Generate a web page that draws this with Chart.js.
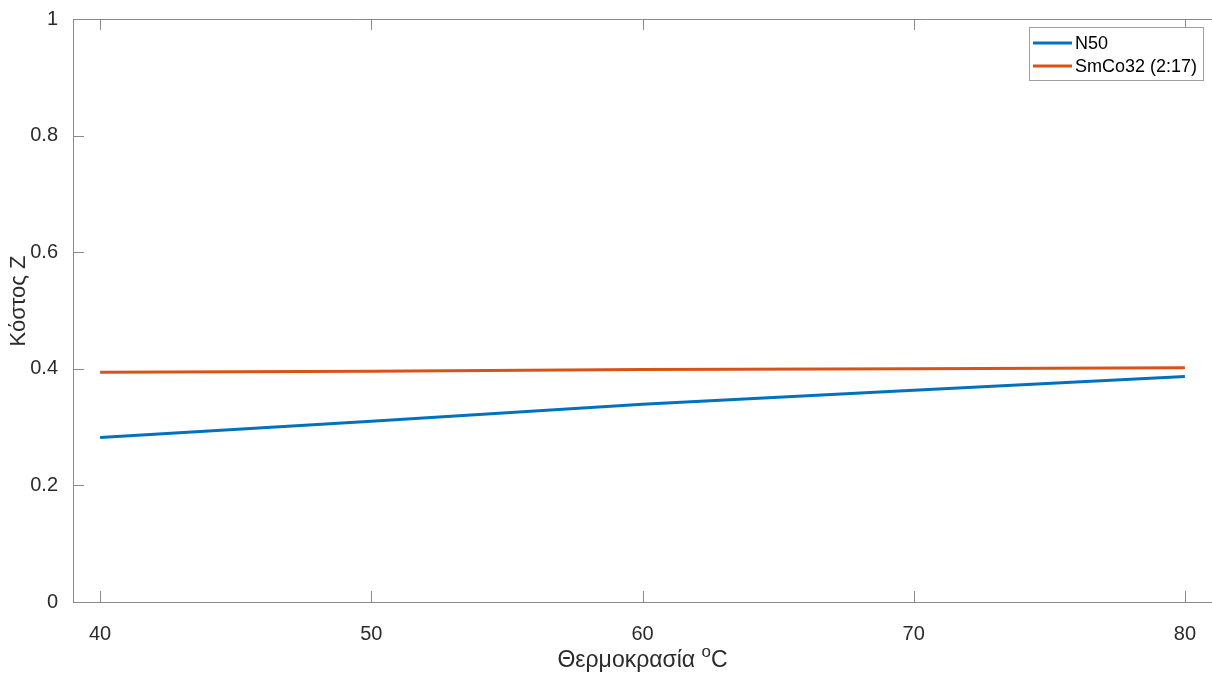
<!DOCTYPE html>
<html>
<head>
<meta charset="utf-8">
<script src="https://cdn.jsdelivr.net/npm/chart.js@4/dist/chart.umd.min.js"></script>
<style>
  html, body { margin: 0; padding: 0; background: #fff; }
  canvas { display: block; }
</style>
</head>
<body>
<canvas id="chart" width="1212" height="673"></canvas>
<script>
// temperatures (x) and cost Z for each magnet
const temps = [40, 50, 60, 70, 80];
const n50 = [0.282, 0.310, 0.339, 0.363, 0.387];
const smco = [0.394, 0.396, 0.399, 0.400, 0.402];
const xTicks = [40, 50, 60, 70, 80];
const yTicks = [0, 0.2, 0.4, 0.6, 0.8, 1];

const FONT = '"Liberation Sans", Arial, sans-serif';
const AXIS = '#8a8a8a';
const TEXT = '#2b2b2b';

// MATLAB-like box: top border, inward ticks, legend, axis titles
const boxPlugin = {
    id: 'box',
    afterDraw(chart) {
        const { ctx, chartArea: a, scales } = chart;
        ctx.save();
        ctx.strokeStyle = AXIS;
        ctx.lineWidth = 1;
        ctx.beginPath();
        ctx.moveTo(a.left, a.top + 0.5);
        ctx.lineTo(a.right, a.top + 0.5);
        const tl = 11;
        xTicks.forEach(v => {
            const px = Math.round(scales.x.getPixelForValue(v)) + 0.5;
            ctx.moveTo(px, a.bottom);
            ctx.lineTo(px, a.bottom - tl);
            ctx.moveTo(px, a.top);
            ctx.lineTo(px, a.top + tl);
        });
        yTicks.forEach(v => {
            const py = Math.round(scales.y.getPixelForValue(v)) + 0.5;
            ctx.moveTo(a.left, py);
            ctx.lineTo(a.left + tl, py);
        });
        ctx.stroke();

        // legend
        const lx = 1029, ly = 27, lw = 174, lh = 53;
        ctx.fillStyle = '#fff';
        ctx.fillRect(lx, ly, lw, lh);
        ctx.strokeStyle = '#a0a0a0';
        ctx.strokeRect(lx + 0.5, ly + 0.5, lw, lh);
        ctx.font = '18px ' + FONT;
        ctx.textBaseline = 'middle';
        ctx.textAlign = 'left';
        chart.data.datasets.forEach((ds, i) => {
            const y = 43 + i * 23;
            ctx.strokeStyle = ds.borderColor;
            ctx.lineWidth = 3;
            ctx.beginPath();
            ctx.moveTo(lx + 4, y);
            ctx.lineTo(lx + 43, y);
            ctx.stroke();
            ctx.fillStyle = '#000';
            ctx.fillText(ds.label, lx + 46, y + 1);
        });

        // x axis title with superscript o
        const main = 'Θερμοκρασία ';
        ctx.font = '23px ' + FONT;
        const w1 = ctx.measureText(main).width;
        ctx.font = '17px ' + FONT;
        const w2 = ctx.measureText('o').width;
        ctx.font = '23px ' + FONT;
        const w3 = ctx.measureText('C').width;
        let x = (a.left + a.right) / 2 - (w1 + w2 + w3) / 2;
        const base = 667;
        ctx.fillStyle = TEXT;
        ctx.textBaseline = 'alphabetic';
        ctx.fillText(main, x, base);
        x += w1;
        ctx.font = '17px ' + FONT;
        ctx.fillText('o', x, base - 10);
        x += w2;
        ctx.font = '23px ' + FONT;
        ctx.fillText('C', x, base);

        // y axis title
        ctx.translate(19, 301);
        ctx.rotate(-Math.PI / 2);
        ctx.textAlign = 'center';
        ctx.textBaseline = 'middle';
        ctx.font = '22px ' + FONT;
        ctx.fillText('Κόστος Z', 0, 0);
        ctx.restore();
    }
};

const ctx = document.getElementById('chart').getContext('2d');
new Chart(ctx, {
    type: 'line',
    data: {
        datasets: [{
            label: 'N50',
            data: temps.map((t, i) => ({ x: t, y: n50[i] })),
            borderColor: '#0072BD',
            borderWidth: 3,
            pointRadius: 0,
            fill: false
        }, {
            label: 'SmCo32 (2:17)',
            data: temps.map((t, i) => ({ x: t, y: smco[i] })),
            borderColor: '#D95319',
            borderWidth: 3,
            pointRadius: 0,
            fill: false
        }]
    },
    options: {
        responsive: false,
        animation: false,
        layout: { padding: { top: 17, right: 0, left: 0, bottom: 0 } },
        plugins: { legend: { display: false }, tooltip: { enabled: false } },
        scales: {
            x: {
                type: 'linear',
                min: 39,
                max: 81,
                afterBuildTicks: (s) => { s.ticks = xTicks.map(v => ({ value: v })); },
                afterFit: (s) => { s.height = 71; },
                grid: { display: false },
                border: { display: true, color: AXIS, width: 1 },
                ticks: {
                    color: TEXT,
                    padding: 12,
                    maxRotation: 0,
                    font: { family: FONT, size: 20 }
                }
            },
            y: {
                min: 0,
                max: 1,
                afterBuildTicks: (s) => { s.ticks = yTicks.map(v => ({ value: v })); },
                afterFit: (s) => { s.width = 73; },
                grid: { display: false },
                border: { display: true, color: AXIS, width: 1 },
                ticks: {
                    color: TEXT,
                    padding: 7,
                    font: { family: FONT, size: 20 },
                    callback: (v) => String(Math.round(v * 10) / 10)
                }
            }
        }
    },
    plugins: [boxPlugin]
});
</script>
</body>
</html>
